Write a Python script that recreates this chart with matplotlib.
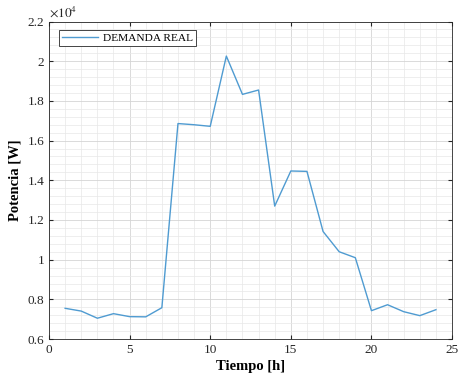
import matplotlib
matplotlib.use("Agg")
import matplotlib.pyplot as plt
from matplotlib.ticker import MultipleLocator, FuncFormatter

hours = list(range(1, 25))
demanda_real = [7550, 7410, 7050, 7280, 7130, 7120, 7580, 16860, 16800, 16720,
                20260, 18330, 18550, 12700, 14470, 14450, 11420, 10400, 10100,
                7430, 7730, 7380, 7180, 7480]
series_label = "DEMANDA REAL"
xlabel = "Tiempo [h]"
ylabel = "Potencia [W]"

plt.rcParams['font.family'] = ['Liberation Serif', 'DejaVu Serif']
plt.rcParams['mathtext.fontset'] = 'stix'

fig = plt.figure(figsize=(4.58, 3.78), dpi=100)
ax = fig.add_axes([0.107, 0.103, 0.880, 0.840])

ax.plot(hours, demanda_real, color='#4f9bd1', lw=1.0, label=series_label)

ax.set_xlim(0, 25)
ax.set_ylim(6000, 22000)
ax.xaxis.set_major_locator(MultipleLocator(5))
ax.xaxis.set_minor_locator(MultipleLocator(1))
ax.yaxis.set_major_locator(MultipleLocator(2000))
ax.yaxis.set_minor_locator(MultipleLocator(400))
ax.yaxis.set_major_formatter(FuncFormatter(lambda v, p: f"{v/1e4:g}"))

ax.grid(which='major', color='#d4d4d4', lw=0.6)
ax.grid(which='minor', color='#e8e8e8', lw=0.5)
ax.set_axisbelow(True)

ax.tick_params(which='both', direction='in', top=True, right=True,
               labelsize=9.5, colors='#262626', length=3)
ax.tick_params(which='minor', length=0)
for s in ax.spines.values():
    s.set_color('#262626')
    s.set_linewidth(0.6)

ax.set_xlabel(xlabel, fontsize=10.5, fontweight='bold', labelpad=3)
ax.set_ylabel(ylabel, fontsize=10.5, fontweight='bold', labelpad=4)

ax.text(0.0, 1.005, r"$\times10^{4}$", transform=ax.transAxes, fontsize=9.5,
        ha='left', va='bottom', color='#262626')

leg = ax.legend(loc='upper left', fontsize=8.2, fancybox=False,
                edgecolor='#262626', framealpha=1, borderpad=0.25,
                handlelength=3.2, handletextpad=0.4, borderaxespad=0,
                bbox_to_anchor=(0.025, 0.972))
leg.get_frame().set_linewidth(0.6)

fig.savefig("out.png", dpi=100)
